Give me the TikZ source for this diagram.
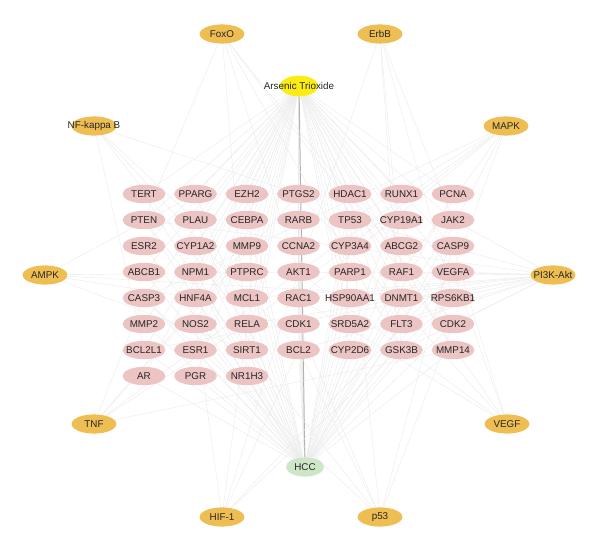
\documentclass[tikz,border=0pt]{standalone}
\usepackage{fontspec}
\setsansfont{Liberation Sans}
\usepackage{tikz}
\usetikzlibrary{shapes.geometric,backgrounds}
\newcommand{\tname}[1]{\makebox[0pt]{#1}}
\definecolor{pathfill}{RGB}{238,190,82}
\definecolor{genefill}{RGB}{236,196,196}
\definecolor{drugfill}{RGB}{250,236,20}
\definecolor{hccfill}{RGB}{206,230,200}
\tikzset{
  nd/.style={ellipse,inner sep=0pt,outer sep=0pt,text=black!85,
    font=\sffamily\fontsize{7}{8}\selectfont},
  gene/.style={nd,fill=genefill,minimum width=1.07cm,minimum height=0.46cm},
  pathw/.style={nd,fill=pathfill,minimum width=1.12cm,minimum height=0.48cm},
  drug/.style={nd,fill=drugfill,minimum width=0.95cm,minimum height=0.52cm},
  dis/.style={nd,fill=hccfill,minimum width=0.95cm,minimum height=0.48cm},
  link/.style={draw=gray!16,line width=0.3pt},
  spine/.style={draw=gray!60,line width=0.7pt},
}

\begin{document}
\begin{tikzpicture}[x=0.025cm,y=-0.025cm]
  \useasboundingbox (0,0) rectangle (600,550);
  % drug, disease and pathways
  \node[drug] (ato) at (299,86) {\tname{Arsenic Trioxide}};
  \node[dis] (hcc) at (305,467) {\tname{HCC}};
  \node[pathw] (foxo) at (222,34) {\tname{FoxO}};
  \node[pathw] (erbb) at (380,34) {\tname{ErbB}};
  \node[pathw] (nfkb) at (94,126) {\tname{NF-kappa B}};
  \node[pathw] (mapk) at (506,126) {\tname{MAPK}};
  \node[pathw] (ampk) at (45,275) {\tname{AMPK}};
  \node[pathw] (pi3k) at (553,275) {\tname{PI3K-Akt}};
  \node[pathw] (tnf) at (94,424) {\tname{TNF}};
  \node[pathw] (vegf) at (507,424) {\tname{VEGF}};
  \node[pathw] (hif) at (222,517) {\tname{HIF-1}};
  \node[pathw] (p53) at (380,517) {\tname{p53}};

  % targets, row by row
  \foreach \r/\row in {
      0/{TERT,PPARG,EZH2,PTGS2,HDAC1,RUNX1,PCNA},
      1/{PTEN,PLAU,CEBPA,RARB,TP53,CYP19A1,JAK2},
      2/{ESR2,CYP1A2,MMP9,CCNA2,CYP3A4,ABCG2,CASP9},
      3/{ABCB1,NPM1,PTPRC,AKT1,PARP1,RAF1,VEGFA},
      4/{CASP3,HNF4A,MCL1,RAC1,HSP90AA1,DNMT1,RPS6KB1},
      5/{MMP2,NOS2,RELA,CDK1,SRD5A2,FLT3,CDK2},
      6/{BCL2L1,ESR1,SIRT1,BCL2,CYP2D6,GSK3B,MMP14},
      7/{AR,PGR,NR1H3}}
    \foreach \g [count=\c from 0] in \row {
      \node[gene] (\g) at (144+51.5*\c,194+26*\r) {\tname{\g}};
      \begin{pgfonlayer}{background}
        \draw[link] (ato) -- (\g);
        \draw[link] (hcc) -- (\g);
      \end{pgfonlayer}
    }

  \begin{pgfonlayer}{background}
    \draw[spine] (ato) -- (hcc);
    % pathway members
    \foreach \p/\set in {
        foxo/{PTEN,AKT1,SIRT1,CDK2,GSK3B,RAF1},
        erbb/{AKT1,RAF1,GSK3B,RPS6KB1,JAK2},
        nfkb/{RELA,BCL2,BCL2L1,PTGS2,PLAU},
        mapk/{AKT1,RAF1,RAC1,RELA,CASP3,FLT3,VEGFA,TP53},
        ampk/{PPARG,SIRT1,AKT1,RPS6KB1,HNF4A},
        pi3k/{AKT1,BCL2,BCL2L1,CDK2,GSK3B,JAK2,MCL1,PTEN,RAC1,RAF1,RELA,RPS6KB1,TP53,VEGFA,FLT3,HSP90AA1},
        tnf/{CASP3,PTGS2,MMP9,MMP14,RELA,AKT1},
        vegf/{AKT1,CASP9,PTGS2,RAC1,RAF1,VEGFA},
        hif/{AKT1,BCL2,NOS2,RELA,VEGFA,RPS6KB1},
        p53/{CASP3,CASP9,CDK1,CDK2,TP53,PTEN,BCL2}}
      \foreach \g in \set
        \draw[link] (\p) -- (\g);
  \end{pgfonlayer}
\end{tikzpicture}
\end{document}
